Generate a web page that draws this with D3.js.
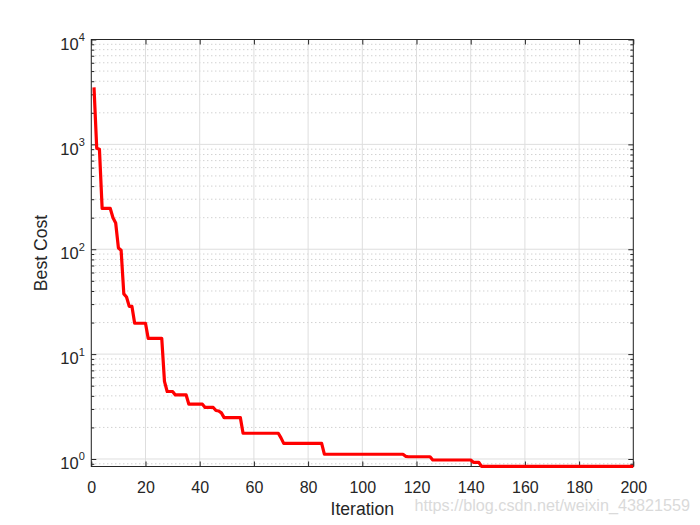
<!DOCTYPE html>
<html>
<head>
<meta charset="utf-8">
<script src="https://cdn.jsdelivr.net/npm/d3@7"></script>
<style>
  body { margin: 0; background: #fff; }
  svg { display: block; font-family: "Liberation Sans", Arial, sans-serif; }
</style>
</head>
<body>
<svg id="chart" width="700" height="525"></svg>
<script>
// vertices of the best-cost curve (iteration where the value changes)
const iterations = [1, 2, 3, 4, 7, 8, 9, 10, 11, 12, 13, 14, 15, 16, 20, 21, 26, 27, 28, 30,
    31, 35, 36, 41, 42, 45, 46, 47, 48, 49, 55, 56, 69, 70, 71, 85, 86, 115, 116, 117,
    125, 126, 140, 141, 143, 144, 200];
const bestCost = [3500, 920, 900, 245, 245, 200, 178, 103, 98, 37.5, 35, 28.5, 28.5, 19.7, 19.7, 14.1, 14.1, 5.5, 4.4, 4.4,
    4.08, 4.08, 3.33, 3.33, 3.1, 3.1, 2.9, 2.87, 2.75, 2.48, 2.48, 1.76, 1.76, 1.59, 1.41, 1.41, 1.11, 1.11, 1.06, 1.05,
    1.05, 0.978, 0.978, 0.93, 0.93, 0.85, 0.85];

const xTicks = [0, 20, 40, 60, 80, 100, 120, 140, 160, 180, 200];
const yTicks = [1, 10, 100, 1000, 10000];
const xDomain = [0, 200];
const yDomain = [0.848, 10000];

const plotLeft = 91.3, plotRight = 633.3, plotTop = 39.5, plotBottom = 466.5;
const ink = '#262626';

const svg = d3.select('#chart');

const x = d3.scaleLinear().domain(xDomain).range([plotLeft, plotRight]);
const y = d3.scaleLog().domain(yDomain).range([plotBottom, plotTop]);

// minor y values 2..9 x 10^k inside the domain
const yMinor = [];
for (let k = -1; k < 4; k++) {
    for (let m = 2; m <= 9; m++) {
        const v = m * Math.pow(10, k);
        if (v >= yDomain[0] && v <= yDomain[1]) yMinor.push(v);
    }
}

const grid = svg.append('g');

// minor grid (dotted)
grid.selectAll('.ymin').data(yMinor).join('line')
    .attr('x1', plotLeft).attr('x2', plotRight)
    .attr('y1', d => y(d)).attr('y2', d => y(d))
    .attr('stroke', '#bdbdbd').attr('stroke-width', 1)
    .attr('stroke-dasharray', '1,3');

// major grid
grid.selectAll('.xmaj').data(xTicks).join('line')
    .attr('x1', d => x(d)).attr('x2', d => x(d))
    .attr('y1', plotTop).attr('y2', plotBottom)
    .attr('stroke', '#dedede').attr('stroke-width', 1);
grid.selectAll('.ymaj').data(yTicks).join('line')
    .attr('x1', plotLeft).attr('x2', plotRight)
    .attr('y1', d => y(d)).attr('y2', d => y(d))
    .attr('stroke', '#dedede').attr('stroke-width', 1);

// box
svg.append('rect')
    .attr('x', plotLeft).attr('y', plotTop)
    .attr('width', plotRight - plotLeft).attr('height', plotBottom - plotTop)
    .attr('fill', 'none').attr('stroke', ink).attr('stroke-width', 1);

// x axes (bottom with labels, top ticks only)
svg.append('g')
    .attr('transform', `translate(0,${plotBottom})`)
    .call(d3.axisTop(x).tickValues(xTicks).tickSize(5).tickFormat(''));
const xLabels = svg.append('g')
    .attr('transform', `translate(0,${plotBottom})`)
    .call(d3.axisBottom(x).tickValues(xTicks).tickSize(0).tickPadding(15));
svg.append('g')
    .attr('transform', `translate(0,${plotTop})`)
    .call(d3.axisBottom(x).tickValues(xTicks).tickSize(5).tickFormat(''));

// y axes: major and minor ticks on both sides
svg.append('g')
    .attr('transform', `translate(${plotLeft},0)`)
    .call(d3.axisRight(y).tickValues(yTicks).tickSize(5).tickFormat(''));
svg.append('g')
    .attr('transform', `translate(${plotLeft},0)`)
    .call(d3.axisRight(y).tickValues(yMinor).tickSize(3).tickFormat(''));
svg.append('g')
    .attr('transform', `translate(${plotRight},0)`)
    .call(d3.axisLeft(y).tickValues(yTicks).tickSize(5).tickFormat(''));
svg.append('g')
    .attr('transform', `translate(${plotRight},0)`)
    .call(d3.axisLeft(y).tickValues(yMinor).tickSize(3).tickFormat(''));
const yLabels = svg.append('g')
    .attr('transform', `translate(${plotLeft},0)`)
    .call(d3.axisLeft(y).tickValues(yTicks).tickSize(0).tickPadding(6.5).tickFormat(''));

svg.selectAll('.domain').remove();
svg.selectAll('.tick line').attr('stroke', ink);

xLabels.selectAll('text')
    .attr('fill', ink).attr('font-size', 16).attr('font-family', null);

yLabels.selectAll('.tick text').each(function (d) {
    const t = d3.select(this)
        .attr('fill', ink).attr('font-family', null)
        .attr('font-size', 16.5).attr('dy', null).attr('y', 9.7);
    t.append('tspan').text('10');
    t.append('tspan').attr('font-size', 11).attr('dy', -8.7)
        .text(Math.round(Math.log10(d)));
});

// data line, drawn over the axes
const line = d3.line()
    .x((d, i) => x(iterations[i]))
    .y(d => y(d));

svg.append('path')
    .datum(bestCost)
    .attr('fill', 'none')
    .attr('stroke', '#ff0000')
    .attr('stroke-width', 3.2)
    .attr('stroke-linejoin', 'round')
    .attr('d', line);

// axis titles
svg.append('text')
    .attr('x', (plotLeft + plotRight) / 2).attr('y', 514.5)
    .attr('text-anchor', 'middle')
    .attr('font-size', 17.6).attr('fill', ink)
    .text('Iteration');

svg.append('text')
    .attr('transform', `translate(47,${(plotTop + plotBottom) / 2}) rotate(-90)`)
    .attr('text-anchor', 'middle')
    .attr('font-size', 17.6).attr('fill', ink)
    .text('Best Cost');

// watermark
svg.append('text')
    .attr('x', 690).attr('y', 511)
    .attr('text-anchor', 'end')
    .attr('font-size', 16.2).attr('fill', '#dadada')
    .text('https://blog.csdn.net/weixin_43821559');
</script>
</body>
</html>
